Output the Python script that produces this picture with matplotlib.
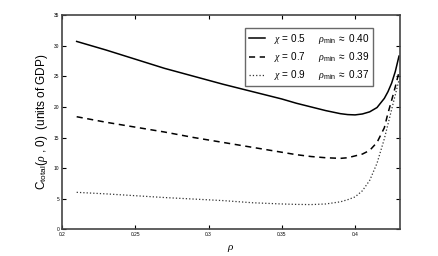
import numpy as np
import matplotlib
matplotlib.use("Agg")
import matplotlib.pyplot as plt

# values
rho = [0.21, 0.23, 0.25, 0.27, 0.29, 0.31, 0.33, 0.35, 0.36, 0.37, 0.38, 0.39, 0.395,
       0.40, 0.405, 0.41, 0.415, 0.42, 0.4225, 0.425, 0.4275, 0.43]
c_05 = [30.7, 29.3, 27.8, 26.3, 25.0, 23.7, 22.5, 21.3, 20.6, 20.0, 19.4, 18.9, 18.75,
        18.7, 18.85, 19.2, 19.9, 21.4, 22.5, 23.9, 25.8, 28.3]
c_07 = [18.4, 17.5, 16.7, 15.9, 15.0, 14.2, 13.4, 12.6, 12.2, 11.9, 11.7, 11.6, 11.7,
        12.0, 12.3, 12.9, 14.2, 16.6, 19.0, 21.1, 23.3, 25.7]
c_09 = [6.05, 5.8, 5.5, 5.2, 4.95, 4.7, 4.35, 4.15, 4.08, 4.05, 4.15, 4.5, 4.85,
        5.3, 6.3, 8.0, 10.8, 14.8, 17.2, 19.6, 22.0, 24.4]

labels = [r'$\chi$ = 0.5     $\rho_{\rm min}$ $\approx$ 0.40',
          r'$\chi$ = 0.7     $\rho_{\rm min}$ $\approx$ 0.39',
          r'$\chi$ = 0.9     $\rho_{\rm min}$ $\approx$ 0.37']

plt.rcParams['font.family'] = ['Liberation Sans', 'DejaVu Sans']
plt.rcParams['mathtext.fontset'] = 'custom'
plt.rcParams['mathtext.rm'] = 'Liberation Sans'
plt.rcParams['mathtext.it'] = 'Liberation Serif:italic'

fig = plt.figure(figsize=(4.38, 2.56), dpi=100)
ax = fig.add_axes([0.1416, 0.104, 0.771, 0.837])

ax.plot(rho, c_05, '-', color='black', lw=1.1, label=labels[0])
ax.plot(rho, c_07, '--', color='black', lw=1.1, dashes=(4, 3), label=labels[1])
ax.plot(rho, c_09, ':', color='#333333', lw=0.9, label=labels[2])

ax.set_xlim(0.2, 0.4305)
ax.set_ylim(0, 35)
ax.set_xticks([0.2, 0.25, 0.3, 0.35, 0.4])
ax.set_xticklabels(['0.2', '0.25', '0.3', '0.35', '0.4'])
ax.set_yticks(range(0, 36, 5))
ax.tick_params(direction='in', top=True, right=True, labelsize=3.5, length=3, width=0.8, pad=2)
for s in ax.spines.values():
    s.set_linewidth(1.2)
    s.set_color('#444444')

ax.set_xlabel(r'$\rho$', fontsize=8)
ax.set_ylabel(r'C$_{\rm total}$($\rho$ , 0)  (units of GDP)', fontsize=8.5, labelpad=3)

leg = ax.legend(loc='upper right', bbox_to_anchor=(373 / 438, 1 - 28 / 256),
                bbox_transform=fig.transFigure, borderaxespad=0,
                fontsize=7.2, frameon=True, fancybox=False,
                edgecolor='#444444', handlelength=1.6, handletextpad=0.9,
                labelspacing=0.45, borderpad=0.35)
leg.get_frame().set_linewidth(1.0)

fig.savefig('out.png', dpi=100)
